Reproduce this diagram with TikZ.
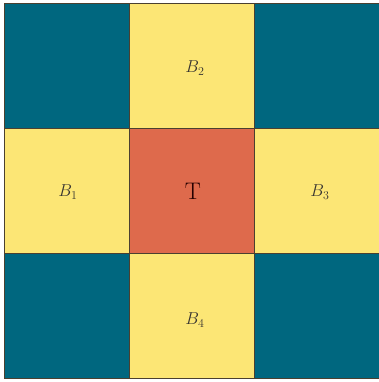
\documentclass[tikz,border=0pt]{standalone}
\usepackage{amsmath}
\definecolor{cblue}{HTML}{00677F}
\definecolor{cyel}{HTML}{FCE675}
\definecolor{cred}{HTML}{DE6A4C}
\definecolor{cline}{HTML}{4A4030}
\begin{document}
\begin{tikzpicture}[x=1pt,y=-1pt,
  cell/.style={draw=cline,line width=1.2pt,minimum width=125pt,minimum height=125pt,inner sep=0pt,anchor=north west},
  lab/.style={font=\fontsize{18}{18}\selectfont, text=black!90!yellow},
  tlab/.style={font=\fontsize{24}{24}\selectfont, text=black!85!red}]
\useasboundingbox (0,0) rectangle (378,382);
\fill[white] (0,0) rectangle (378,382);
\node[cell,fill=cblue] (c11) at (4,3) {};
\node[cell,fill=cyel]  (c12) at (129,3) {};
\node[cell,fill=cblue] (c13) at (254,3) {};
\node[cell,fill=cyel]  (c21) at (4,128) {};
\node[cell,fill=cred]  (c22) at (129,128) {};
\node[cell,fill=cyel]  (c23) at (254,128) {};
\node[cell,fill=cblue] (c31) at (4,253) {};
\node[cell,fill=cyel]  (c32) at (129,253) {};
\node[cell,fill=cblue] (c33) at (254,253) {};
\node[lab] (b2) at (195,68) {$B_2$};
\node[lab] (b1) at (68,192) {$B_1$};
\node[lab] (b3) at (320,192) {$B_3$};
\node[lab] (b4) at (195,320) {$B_4$};
\node[tlab] (t) at (193,191) {T};
\end{tikzpicture}
\end{document}
